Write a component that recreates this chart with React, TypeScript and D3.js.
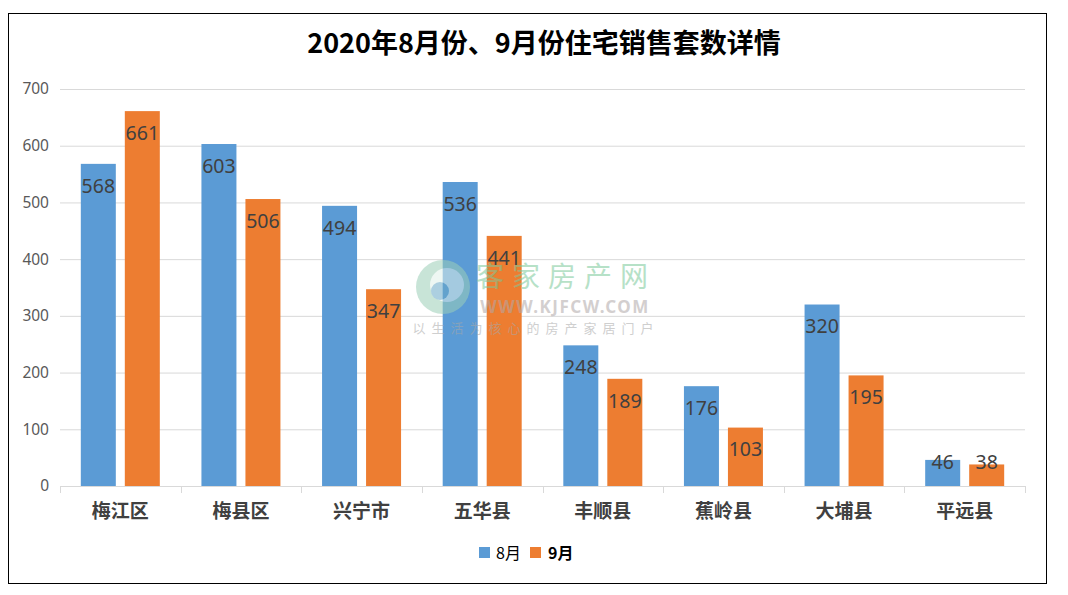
import React from "react";
import * as d3 from "d3";

const categories = ["梅江区", "梅县区", "兴宁市", "五华县", "丰顺县", "蕉岭县", "大埔县", "平远县"];
const aug = [568, 603, 494, 536, 248, 176, 320, 46];
const sep = [661, 506, 347, 441, 189, 103, 195, 38];
const yTicks = [0, 100, 200, 300, 400, 500, 600, 700];
const seriesNames = ["8月", "9月"];
const colors = ["#5b9bd5", "#ed7d31"];

export default function App() {
  const W = 1068, H = 595;
  const left = 60, right = 1025, top = 89, bottom = 486;
  const x = d3.scaleBand<string>().domain(categories).range([left, right]);
  const groupW = 79;
  const off = (x.bandwidth() - groupW) / 2;
  const inner = d3.scaleBand<number>().domain([0, 1]).range([off, off + groupW]).paddingInner(9 / 44).paddingOuter(0);
  const y = d3.scaleLinear().domain([0, 700]).range([bottom, top]);
  const series = [aug, sep];
  const cjk = "'Noto Sans CJK SC', 'Microsoft YaHei', sans-serif";
  const num = "'Noto Sans', 'DejaVu Sans', sans-serif";
  return (
    <div style={{ position: "fixed", left: 0, top: 0 }}>
      <svg width={W} height={H} style={{ display: "block", background: "#fff" }}>
        <rect x={8.5} y={13.5} width={1038} height={570} fill="#fff" stroke="#000" strokeWidth={1} />
        <text x={544} y={53} textAnchor="middle" fontFamily={cjk} fontWeight="bold" fontSize={27} fill="#000">
          2020年8月份、9月份住宅销售套数详情
        </text>
        {yTicks.map((t) => (
          <g key={t}>
            {t > 0 && <line x1={left} x2={right} y1={y(t) + 0.5} y2={y(t) + 0.5} stroke="#d9d9d9" />}
            <text x={49} y={y(t)} dy="0.35em" textAnchor="end" fontFamily={num} fontSize={15.5} fill="#595959">
              {t}
            </text>
          </g>
        ))}
        <line x1={left} x2={right} y1={bottom + 0.5} y2={bottom + 0.5} stroke="#d9d9d9" />
        {d3.range(categories.length + 1).map((i) => {
          const xx = Math.round(left + i * x.step()) + 0.5;
          return <line key={i} x1={xx} x2={xx} y1={bottom} y2={bottom + 7} stroke="#d9d9d9" />;
        })}
        {categories.map((c, ci) => (
          <g key={c}>
            {series.map((s, si) => {
              const bx = (x(c) as number) + (inner(si) as number);
              const bw = inner.bandwidth();
              const v = s[ci];
              const ty = y(v);
              const h = bottom - ty;
              const cy = h > 44 ? ty + 22 : bottom - 24;
              return (
                <g key={si}>
                  <rect x={bx} y={ty} width={bw} height={h} fill={colors[si]} />
                  <text x={bx + bw / 2} y={cy} dy="0.35em" textAnchor="middle" fontFamily={num} fontSize={19.5} fill="#404040">
                    {v}
                  </text>
                </g>
              );
            })}
            <text x={(x(c) as number) + x.bandwidth() / 2} y={511} dy="0.35em" textAnchor="middle" fontFamily={cjk} fontWeight="bold" fontSize={19} fill="#404040">
              {c}
            </text>
          </g>
        ))}
        <g opacity={0.55}>
          <circle cx={443} cy={287} r={27} fill="#9ccfb8" />
          <circle cx={447} cy={285} r={17} fill="#ffffff" opacity={0.7} />
          <circle cx={440} cy={291} r={9} fill="#6aa8c8" />
          <text x={566} y={277} dy="0.35em" textAnchor="middle" fontFamily={cjk} fontSize={28} fill="#7cc99a" letterSpacing={8}>客家房产网</text>
          <text x={565} y={307} dy="0.35em" textAnchor="middle" fontFamily={num} fontWeight="bold" fontSize={17} fill="#b0a8a8" letterSpacing={1.5}>WWW.KJFCW.COM</text>
          <text x={536} y={328} dy="0.35em" textAnchor="middle" fontFamily={cjk} fontSize={13} fill="#a8a8a8" letterSpacing={6}>以生活为核心的房产家居门户</text>
        </g>
        <g>
          <rect x={479} y={547} width={11} height={11} fill={colors[0]} />
          <text x={496} y={553} dy="0.35em" fontFamily={cjk} fontSize={16} fill="#000">{seriesNames[0]}</text>
          <rect x={530} y={547} width={11} height={11} fill={colors[1]} />
          <text x={548} y={553} dy="0.35em" fontFamily={cjk} fontWeight="bold" fontSize={16} fill="#000">{seriesNames[1]}</text>
        </g>
      </svg>
    </div>
  );
}
